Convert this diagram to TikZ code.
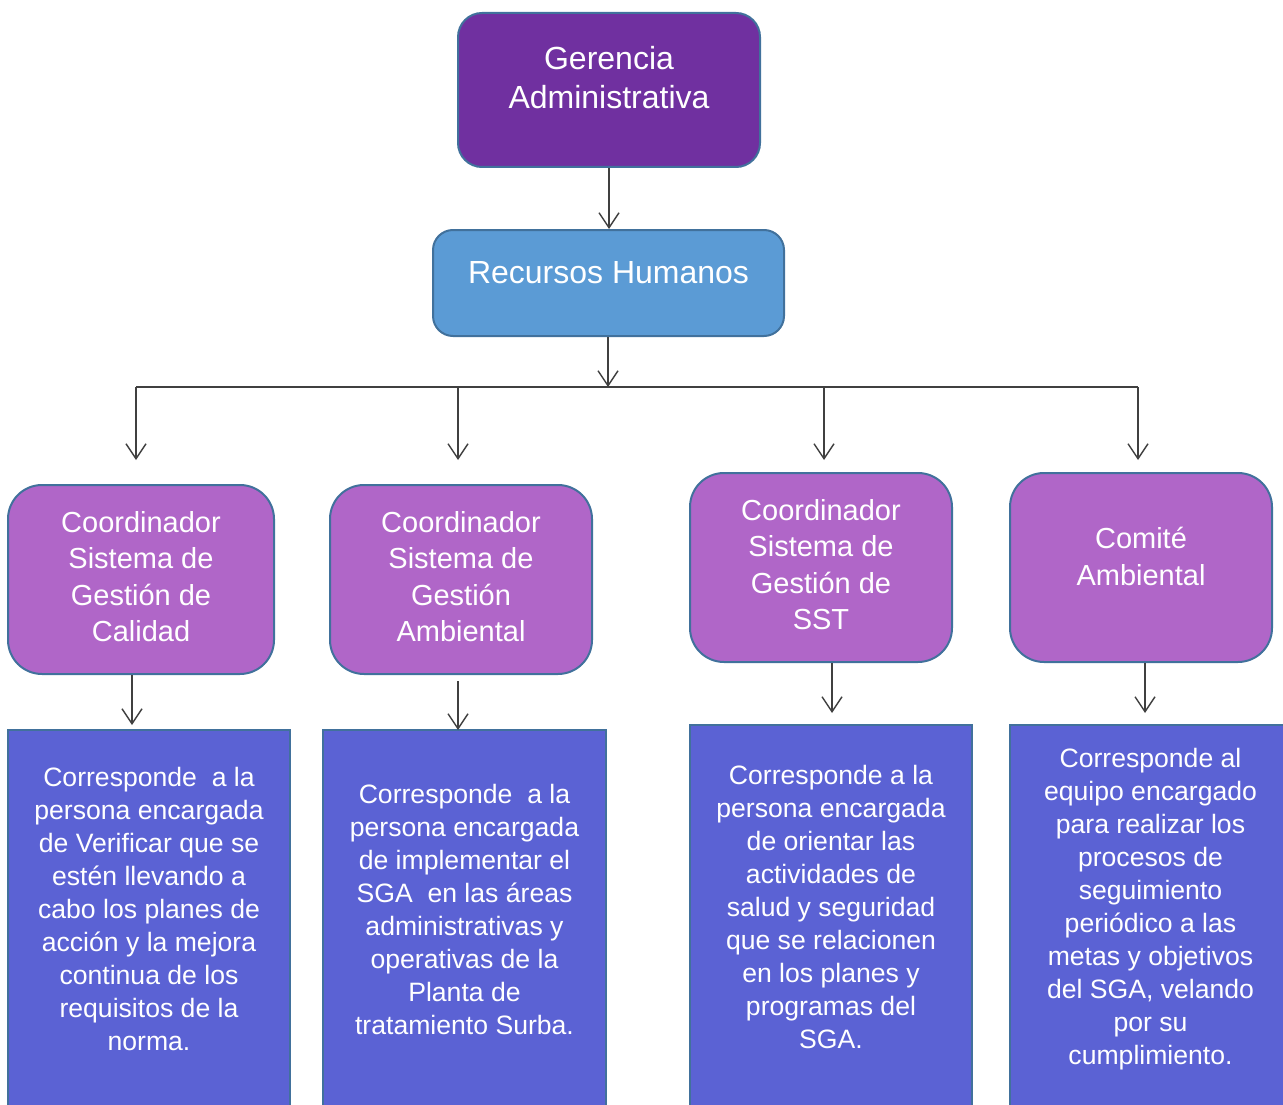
\documentclass[tikz,border=0pt]{standalone}
\usepackage{fontspec}
\setmainfont{Liberation Sans}
\usetikzlibrary{arrows.meta}
\definecolor{gerpurple}{HTML}{7030A0}
\definecolor{rhblue}{HTML}{5B9BD5}
\definecolor{coordpurple}{HTML}{B066C8}
\definecolor{descblue}{HTML}{5B62D4}
\definecolor{edgeblue}{HTML}{41719C}
\definecolor{linegray}{HTML}{404040}
\tikzset{
  topbox/.style={draw=edgeblue, line width=2pt, rounded corners=24pt, text=white, align=center,
    font=\fontsize{32}{39}\selectfont},
  coordbox/.style={draw=edgeblue, fill=coordpurple, line width=2pt, rounded corners=34pt, text=white,
    align=center, minimum width=262pt, minimum height=189pt, text depth=6pt, font=\fontsize{29}{36.5}\selectfont},
  descbox/.style={draw=edgeblue, fill=descblue, line width=2pt, text=white, align=center,
    text depth=18pt, font=\fontsize{26.6}{33}\selectfont},
  arr/.style={draw=linegray, line width=1.4pt, -{Straight Barb[length=15pt,width=20pt]}},
  bus/.style={draw=linegray, line width=1.4pt}
}
\begin{document}
\begin{tikzpicture}[x=1pt,y=-1pt]
\useasboundingbox (0,0) rectangle (1283,1105);
% top levels
\node [topbox, fill=gerpurple, minimum width=302pt, minimum height=154pt, text depth=25pt] (ger) at (609,90) {Gerencia\\Administrativa};
\node [topbox, fill=rhblue, rounded corners=20pt, minimum width=351pt, minimum height=106pt, text height=23pt, text depth=23pt] (rh) at (608.5,283) {Recursos Humanos};
% coordinators
\node [coordbox, minimum width=266pt] (calidad) at (141,579.5) {Coordinador\\Sistema de\\Gestión de\\Calidad};
\node [coordbox] (ambiental) at (461,579.5) {Coordinador\\Sistema de\\Gestión\\Ambiental};
\node [coordbox] (sst) at (821,567.5) {Coordinador\\Sistema de\\Gestión de\\SST};
\node [coordbox, text depth=22pt] (comite) at (1141,567.5) {Comité\\Ambiental};
% descriptions
\node [descbox, minimum width=282pt, minimum height=376pt] (desccal) at (149,918) {Corresponde\ \ a la\\persona encargada\\de Verificar que se\\estén llevando a\\cabo los planes de\\acción y la mejora\\continua de los\\requisitos de la\\norma.};
\node [descbox, minimum width=283pt, minimum height=376pt] (descamb) at (464.5,918) {Corresponde\ \ a la\\persona encargada\\de implementar el\\SGA\ \ en las áreas\\administrativas y\\operativas de la\\Planta de\\tratamiento Surba.};
\node [descbox, minimum width=282pt, minimum height=381pt] (descsst) at (831,915.5) {Corresponde a la\\persona encargada\\de orientar las\\actividades de\\salud y seguridad\\que se relacionen\\en los planes y\\programas del\\SGA.};
\node [descbox, minimum width=281pt, minimum height=381pt] (desccom) at (1150.5,915.5) {Corresponde al\\equipo encargado\\para realizar los\\procesos de\\seguimiento\\periódico a las\\metas y objetivos\\del SGA, velando\\por su\\cumplimiento.};
% connectors
\coordinate (junc) at (608,387);
\coordinate (d1) at (136,460);
\coordinate (d2) at (458,460);
\coordinate (d3) at (824,460);
\coordinate (d4) at (1138,460);
\coordinate (a1) at (132,725);
\coordinate (a2) at (458,730);
\coordinate (a3) at (832,713);
\coordinate (a4) at (1145,713);
\draw [arr] (ger.south) -- (ger.south |- rh.north);
\draw [arr] (rh.south -| junc) -- (junc);
\draw [bus] (d1 |- junc) -- (d4 |- junc);
\foreach \d in {d1,d2,d3,d4}
  \draw [arr] (\d |- junc) -- (\d);
\draw [arr] (calidad.south -| a1) -- (a1);
\draw [arr] ([yshift=-6pt]ambiental.south -| a2) -- (a2);
\draw [arr] (sst.south -| a3) -- (a3);
\draw [arr] (comite.south -| a4) -- (a4);
\end{tikzpicture}
\end{document}
